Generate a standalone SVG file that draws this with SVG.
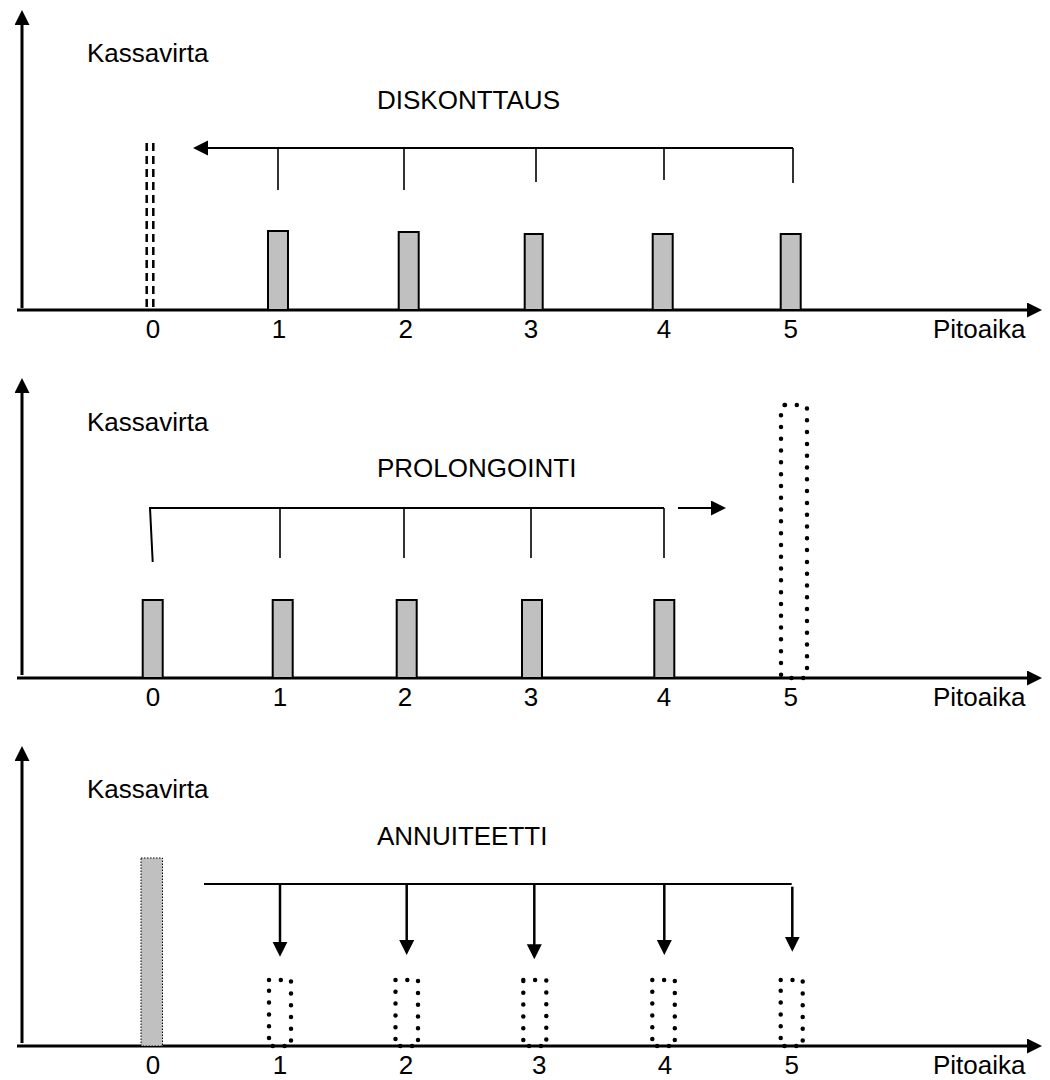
<svg xmlns="http://www.w3.org/2000/svg" width="1050" height="1080" viewBox="0 0 1050 1080">
<defs>
<marker id="arr" markerUnits="userSpaceOnUse" markerWidth="16" markerHeight="16" refX="11" refY="7.5" orient="auto">
<path d="M0,0 L15,7.5 L0,15 z" fill="#000"/>
</marker>
<style>
text{font-family:"Liberation Sans",Arial,sans-serif;font-size:26px;fill:#000}
.lbl{text-anchor:middle}
.axis{stroke:#000;stroke-width:3;fill:none}
.br{stroke:#000;stroke-width:2;fill:none}
.tk{stroke:#000;stroke-width:1.6;fill:none}
.va{stroke:#000;stroke-width:2.5;fill:none}
.bar{fill:#c0c0c0;stroke:#000;stroke-width:2}
.dotbar{fill:none;stroke:#000;stroke-width:4.5;stroke-linecap:round;stroke-dasharray:0 11.8}
.dash{stroke:#000;stroke-width:2.5;stroke-dasharray:8 5;fill:none}
.fbar{fill:#c0c0c0;stroke:#000;stroke-width:1;stroke-dasharray:1.5 1.5}
</style>
</defs>
<rect width="1050" height="1080" fill="#fff"/>

<g id="connectors">
<!-- panel 1 -->
<path class="axis" d="M22,308 L22,14" marker-end="url(#arr)"/>
<path class="axis" d="M17,310 L1038,310" marker-end="url(#arr)"/>
<path class="br" d="M793,148 L197,148" marker-end="url(#arr)"/>
<path class="tk" d="M278,148 V190 M404,148 V190 M536,148 V182 M664,148 V180 M793,148 V183"/>
<!-- panel 2 -->
<path class="axis" d="M22,675 L22,382" marker-end="url(#arr)"/>
<path class="axis" d="M17,678 L1038,678" marker-end="url(#arr)"/>
<path class="br" d="M152.7,562 L150,508 L664,508"/>
<path class="br" d="M678,508 L722,508" marker-end="url(#arr)"/>
<path class="tk" d="M280,508 V558 M404,508 V558 M531,508 V558 M664,508 V558"/>
<!-- panel 3 -->
<path class="axis" d="M22,1043 L22,750" marker-end="url(#arr)"/>
<path class="axis" d="M17,1046 L1038,1046" marker-end="url(#arr)"/>
<path class="br" d="M204,884 L791.7,884"/>
<path class="va" d="M280,884 L280,952.7" marker-end="url(#arr)"/>
<path class="va" d="M406.7,884 L406.7,951" marker-end="url(#arr)"/>
<path class="va" d="M534.3,884 L534.3,955.3" marker-end="url(#arr)"/>
<path class="va" d="M664.3,884 L664.3,951" marker-end="url(#arr)"/>
<path class="va" d="M792.3,886.7 L792.3,947.7" marker-end="url(#arr)"/>
</g>

<g id="panel1">
<g id="p1-title"><text x="87" y="62">Kassavirta</text><text x="377" y="109">DISKONTTAUS</text><text x="933" y="338">Pitoaika</text></g>
<g id="p1-t0"><path class="dash" d="M146.7,143 V310 M153.3,143 V310"/></g>
<g id="p1-b1"><rect class="bar" x="268" y="231" width="20" height="79"/></g>
<g id="p1-b2"><rect class="bar" x="398.7" y="232" width="20" height="78"/></g>
<g id="p1-b3"><rect class="bar" x="524.7" y="234" width="18" height="76"/></g>
<g id="p1-b4"><rect class="bar" x="652.7" y="234" width="20" height="76"/></g>
<g id="p1-b5"><rect class="bar" x="780.7" y="234" width="20" height="76"/></g>
<g id="p1-labels">
<text class="lbl" x="153" y="338">0</text><text class="lbl" x="279" y="338">1</text><text class="lbl" x="405.7" y="338">2</text><text class="lbl" x="531" y="338">3</text><text class="lbl" x="664" y="338">4</text><text class="lbl" x="790.7" y="338">5</text>
</g>
</g>

<g id="panel2">
<g id="p2-title"><text x="87" y="430.5">Kassavirta</text><text x="377" y="476.7">PROLONGOINTI</text><text x="933" y="706">Pitoaika</text></g>
<g id="p2-b0"><rect class="bar" x="142.7" y="600" width="20" height="78"/></g>
<g id="p2-b1"><rect class="bar" x="272.7" y="600" width="20" height="78"/></g>
<g id="p2-b2"><rect class="bar" x="396.7" y="600" width="20" height="78"/></g>
<g id="p2-b3"><rect class="bar" x="522" y="600" width="20" height="78"/></g>
<g id="p2-b4"><rect class="bar" x="654.3" y="600" width="20" height="78"/></g>
<g id="p2-b5"><rect class="dotbar" x="781" y="405" width="26" height="273" rx="4"/></g>
<g id="p2-labels">
<text class="lbl" x="153" y="706">0</text><text class="lbl" x="280" y="706">1</text><text class="lbl" x="405" y="706">2</text><text class="lbl" x="531" y="706">3</text><text class="lbl" x="664" y="706">4</text><text class="lbl" x="790.7" y="706">5</text>
</g>
</g>

<g id="panel3">
<g id="p3-title"><text x="87" y="798">Kassavirta</text><text x="377" y="845">ANNUITEETTI</text><text x="933" y="1074">Pitoaika</text></g>
<g id="p3-b0"><rect class="fbar" x="141" y="858" width="21.5" height="188"/></g>
<g id="p3-b1"><rect class="dotbar" x="269" y="980" width="22" height="66"/></g>
<g id="p3-b2"><rect class="dotbar" x="395.5" y="980" width="22.5" height="66"/></g>
<g id="p3-b3"><rect class="dotbar" x="523.3" y="980" width="23" height="66"/></g>
<g id="p3-b4"><rect class="dotbar" x="652.3" y="980" width="22.5" height="66"/></g>
<g id="p3-b5"><rect class="dotbar" x="780.7" y="980" width="22" height="66"/></g>
<g id="p3-labels">
<text class="lbl" x="153" y="1074">0</text><text class="lbl" x="280" y="1074">1</text><text class="lbl" x="406" y="1074">2</text><text class="lbl" x="539.3" y="1074">3</text><text class="lbl" x="665" y="1074">4</text><text class="lbl" x="791.7" y="1074">5</text>
</g>
</g>
</svg>
